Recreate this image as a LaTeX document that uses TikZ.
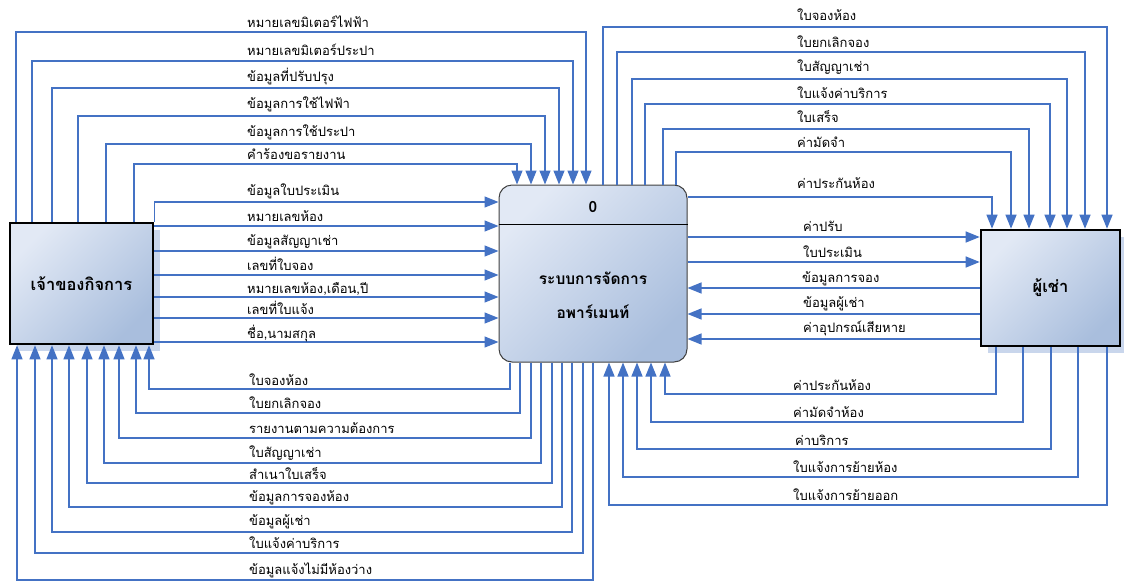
\documentclass[tikz,border=0pt]{standalone}
\usepackage{fontspec}
\setmainfont[Script=Thai]{Loma}
\usetikzlibrary{arrows.meta,shadows}
\definecolor{flowc}{HTML}{4472C4}
\definecolor{boxA}{HTML}{E2E9F5}
\definecolor{boxB}{HTML}{A9BEDD}
\definecolor{shadc}{HTML}{C9D6EC}
\begin{document}
\begin{tikzpicture}[x=1pt,y=-1pt,
  flow/.style={draw=flowc, line width=1.3pt},
  arr/.style={flow, -{Triangle[length=14pt,width=11pt]}},
  lbl/.style={anchor=base west, inner sep=0pt, font=\fontsize{13}{15}\selectfont},
  extbox/.style={draw=black, line width=2.6pt, top color=boxA, bottom color=boxB, shading angle=45,
    drop shadow={shadow xshift=7pt, shadow yshift=-7pt, fill=shadc, opacity=1},
    font=\bfseries\fontsize{16.5}{18}\selectfont, inner sep=0pt},
  procbox/.style={draw=black!75, line width=1pt, rounded corners=13pt, top color=boxA, bottom color=boxB, shading angle=45},
  boxtxt/.style={font=\bfseries\fontsize{15.5}{34}\selectfont, align=center, inner sep=0pt}
]
\useasboundingbox (0,0) rectangle (1124,584);

% boxes
\node[extbox, minimum width=143pt, minimum height=121pt] (owner) at (81.5,283.5) {เจ้าของกิจการ};
\node[extbox, minimum width=139pt, minimum height=116pt] (tenant) at (1050.5,288) {ผู้เช่า};
\node[procbox, minimum width=188pt, minimum height=177pt] (sys) at (593,273.5) {};
\draw[black, line width=1pt] (sys.west |- 0,224) -- (sys.east |- 0,224);
\node[boxtxt] (sysnum) at (593,207) {0};
\node[boxtxt] (systxt) at (593,295) {ระบบการจัดการ\\อพาร์เมนท์};

% owner top -> system top
\draw[arr] (owner.north -| 16,0)  |- (586,32)  -- (sys.north -| 586,0);
\draw[arr] (owner.north -| 32,0)  |- (573,61)  -- (sys.north -| 573,0);
\draw[arr] (owner.north -| 52,0)  |- (559,88)  -- (sys.north -| 559,0);
\draw[arr] (owner.north -| 78,0)  |- (545,116) -- (sys.north -| 545,0);
\draw[arr] (owner.north -| 106,0) |- (531,144) -- (sys.north -| 531,0);
\draw[arr] (owner.north -| 134,0) |- (517,164) -- (sys.north -| 517,0);
\node[lbl] (t1) at (247,27)  {หมายเลขมิเตอร์ไฟฟ้า};
\node[lbl] (t2) at (247,55)  {หมายเลขมิเตอร์ประปา};
\node[lbl] (t3) at (247,81)  {ข้อมูลที่ปรับปรุง};
\node[lbl] (t4) at (247,108) {ข้อมูลการใช้ไฟฟ้า};
\node[lbl] (t5) at (247,136) {ข้อมูลการใช้ประปา};
\node[lbl] (t6) at (247,159) {คำร้องขอรายงาน};

% owner right -> system left
\draw[arr] (owner.north east) |- (sys.west |- 0,202);
\draw[arr] (owner.east |- 0,226) -- (sys.west |- 0,226);
\draw[arr] (owner.east |- 0,251) -- (sys.west |- 0,251);
\draw[arr] (owner.east |- 0,275) -- (sys.west |- 0,275);
\draw[arr] (owner.east |- 0,297) -- (sys.west |- 0,297);
\draw[arr] (owner.east |- 0,318) -- (sys.west |- 0,318);
\draw[arr] (owner.east |- 0,342) -- (sys.west |- 0,342);
\node[lbl] (m1) at (247,195) {ข้อมูลใบประเมิน};
\node[lbl] (m2) at (247,221) {หมายเลขห้อง};
\node[lbl] (m3) at (247,245) {ข้อมูลสัญญาเช่า};
\node[lbl] (m4) at (247,270) {เลขที่ใบจอง};
\node[lbl] (m5) at (247,293) {หมายเลขห้อง,เดือน,ปี};
\node[lbl] (m6) at (247,314) {เลขที่ใบแจ้ง};
\node[lbl] (m7) at (247,338) {ชื่อ,นามสกุล};

% system bottom -> owner bottom
\draw[arr] (sys.south -| 510,0) |- (149,389) -- (owner.south -| 149,0);
\draw[arr] (sys.south -| 520,0) |- (136,413) -- (owner.south -| 136,0);
\draw[arr] (sys.south -| 531,0) |- (119,438) -- (owner.south -| 119,0);
\draw[arr] (sys.south -| 541,0) |- (104,463) -- (owner.south -| 104,0);
\draw[arr] (sys.south -| 552,0) |- (87,483)  -- (owner.south -| 87,0);
\draw[arr] (sys.south -| 562,0) |- (69,507)  -- (owner.south -| 69,0);
\draw[arr] (sys.south -| 572,0) |- (52,532)  -- (owner.south -| 52,0);
\draw[arr] (sys.south -| 583,0) |- (35,553)  -- (owner.south -| 35,0);
\draw[arr] (sys.south -| 593,0) |- (17,580)  -- (owner.south -| 17,0);
\node[lbl] (b1) at (249,385) {ใบจองห้อง};
\node[lbl] (b2) at (249,408) {ใบยกเลิกจอง};
\node[lbl] (b3) at (249,433) {รายงานตามความต้องการ};
\node[lbl] (b4) at (249,457) {ใบสัญญาเช่า};
\node[lbl] (b5) at (249,479) {สำเนาใบเสร็จ};
\node[lbl] (b6) at (249,501) {ข้อมูลการจองห้อง};
\node[lbl] (b7) at (249,525) {ข้อมูลผู้เช่า};
\node[lbl] (b8) at (249,548) {ใบแจ้งค่าบริการ};
\node[lbl] (b9) at (249,574) {ข้อมูลแจ้งไม่มีห้องว่าง};

% system top -> tenant top
\draw[arr] (sys.north -| 603,0) |- (1107,27)  -- (tenant.north -| 1107,0);
\draw[arr] (sys.north -| 617,0) |- (1085,52)  -- (tenant.north -| 1085,0);
\draw[arr] (sys.north -| 632,0) |- (1067,79)  -- (tenant.north -| 1067,0);
\draw[arr] (sys.north -| 645,0) |- (1050,104) -- (tenant.north -| 1050,0);
\draw[arr] (sys.north -| 663,0) |- (1029,129) -- (tenant.north -| 1029,0);
\draw[arr] (sys.north -| 676,0) |- (1011,152) -- (tenant.north -| 1011,0);
\draw[arr] (sys.east |- 0,197) -| (tenant.north -| 992,0);
\node[lbl] (r1) at (797,20)  {ใบจองห้อง};
\node[lbl] (r2) at (797,47)  {ใบยกเลิกจอง};
\node[lbl] (r3) at (797,71)  {ใบสัญญาเช่า};
\node[lbl] (r4) at (797,98)  {ใบแจ้งค่าบริการ};
\node[lbl] (r5) at (797,122) {ใบเสร็จ};
\node[lbl] (r6) at (797,147) {ค่ามัดจำ};
\node[lbl] (r7) at (797,188) {ค่าประกันห้อง};

% system <-> tenant middle
\draw[arr] (sys.east |- 0,237) -- (tenant.west |- 0,237);
\draw[arr] (sys.east |- 0,262) -- (tenant.west |- 0,262);
\draw[arr] (tenant.west |- 0,288) -- (sys.east |- 0,288);
\draw[arr] (tenant.west |- 0,314) -- (sys.east |- 0,314);
\draw[arr] (tenant.west |- 0,339) -- (sys.east |- 0,339);
\node[lbl] (c1) at (803,231) {ค่าปรับ};
\node[lbl] (c2) at (803,257) {ใบประเมิน};
\node[lbl] (c3) at (802,282) {ข้อมูลการจอง};
\node[lbl] (c4) at (803,307) {ข้อมูลผู้เช่า};
\node[lbl] (c5) at (803,332) {ค่าอุปกรณ์เสียหาย};

% tenant bottom -> system bottom
\draw[arr] (tenant.south -| 996,0)  |- (665,394) -- (sys.south -| 665,0);
\draw[arr] (tenant.south -| 1023,0) |- (651,422) -- (sys.south -| 651,0);
\draw[arr] (tenant.south -| 1051,0) |- (637,449) -- (sys.south -| 637,0);
\draw[arr] (tenant.south -| 1078,0) |- (623,477) -- (sys.south -| 623,0);
\draw[arr] (tenant.south -| 1107,0) |- (609,505) -- (sys.south -| 609,0);
\node[lbl] (d1) at (793,390) {ค่าประกันห้อง};
\node[lbl] (d2) at (793,417) {ค่ามัดจำห้อง};
\node[lbl] (d3) at (795,445) {ค่าบริการ};
\node[lbl] (d4) at (793,472) {ใบแจ้งการย้ายห้อง};
\node[lbl] (d5) at (793,500) {ใบแจ้งการย้ายออก};
\end{tikzpicture}
\end{document}
